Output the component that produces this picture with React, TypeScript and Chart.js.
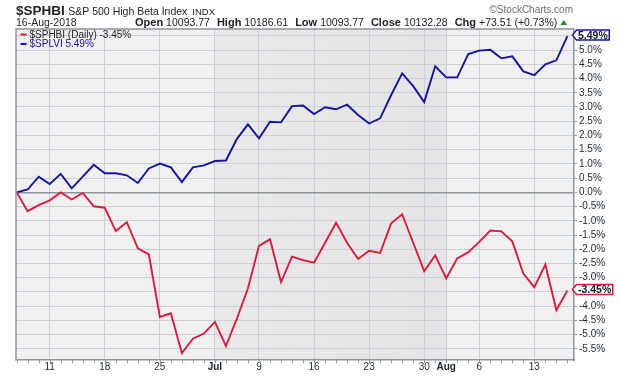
import React, { useEffect, useRef } from "react";
import { Chart, registerables } from "chart.js";

Chart.register(...registerables);

// ---- Data ----
const dates = [
  "2018-06-06", "2018-06-07", "2018-06-08",
  "2018-06-11", "2018-06-12", "2018-06-13", "2018-06-14", "2018-06-15",
  "2018-06-18", "2018-06-19", "2018-06-20", "2018-06-21", "2018-06-22",
  "2018-06-25", "2018-06-26", "2018-06-27", "2018-06-28", "2018-06-29",
  "2018-07-02", "2018-07-03", "2018-07-05", "2018-07-06",
  "2018-07-09", "2018-07-10", "2018-07-11", "2018-07-12", "2018-07-13",
  "2018-07-16", "2018-07-17", "2018-07-18", "2018-07-19", "2018-07-20",
  "2018-07-23", "2018-07-24", "2018-07-25", "2018-07-26", "2018-07-27",
  "2018-07-30", "2018-07-31", "2018-08-01", "2018-08-02", "2018-08-03",
  "2018-08-06", "2018-08-07", "2018-08-08", "2018-08-09", "2018-08-10",
  "2018-08-13", "2018-08-14", "2018-08-15", "2018-08-16",
];

// $SPHBI (Daily) percent change
const sphbi = [
  0, -0.66, -0.45,
  -0.28, 0.0, -0.25, -0.02, -0.49,
  -0.54, -1.36, -1.05, -1.97, -2.18,
  -4.38, -4.25, -5.65, -5.14, -4.96,
  -4.55, -5.4, -4.43, -3.37,
  -1.88, -1.65, -3.15, -2.26, -2.38,
  -2.47, -1.77, -1.07, -1.77, -2.34,
  -2.05, -2.13, -1.09, -0.77, -1.77,
  -2.77, -2.21, -3.02, -2.32, -2.1,
  -1.74, -1.34, -1.37, -1.72, -2.85,
  -3.33, -2.54, -4.14, -3.45,
];

// $SPLVI percent change
const splvi = [
  0, 0.1, 0.55,
  0.29, 0.65, 0.14, 0.55, 0.97,
  0.67, 0.67, 0.6, 0.33, 0.84,
  1.01, 0.88, 0.36, 0.88, 0.95,
  1.1, 1.12, 1.88, 2.39,
  1.9, 2.48, 2.46, 3.03, 3.05,
  2.75, 2.99, 2.92, 3.08, 2.72,
  2.42, 2.6, 3.42, 4.18, 3.73,
  3.17, 4.43, 4.04, 4.04, 4.86,
  4.98, 5.01, 4.71, 4.78, 4.25,
  4.12, 4.5, 4.64, 5.49,
];

const yTickValues = [
  -5.5, -5, -4.5, -4, -3.5, -3, -2.5, -2, -1.5, -1, -0.5, 0,
  0.5, 1, 1.5, 2, 2.5, 3, 3.5, 4, 4.5, 5, 5.5,
];

const monthNames = ["Jan", "Feb", "Mar", "Apr", "May", "Jun", "Jul", "Aug", "Sep", "Oct", "Nov", "Dec"];

const headerSymbol = "$SPHBI";
const headerName = "S&P 500 High Beta Index";
const headerExch = "INDX";
const headerDate = "16-Aug-2018";
const headerStats: [string, string][] = [
  ["Open", "10093.77"],
  ["High", "10186.61"],
  ["Low", "10093.77"],
  ["Close", "10132.28"],
  ["Chg", "+73.51 (+0.73%)"],
];
const watermark = "\u00A9StockCharts.com";

const FONT = "'Liberation Sans', Arial, Helvetica, sans-serif";
const RED = "#dc1a3c";
const BLUE = "#1414a0";
const GRID = "#c9d0da";
const BORDER = "#8e949c";
const TEXT = "#1e2530";

export default function App() {
  const ref = useRef<HTMLCanvasElement>(null);

  useEffect(() => {
    document.body.style.margin = "0";
    const canvas = ref.current!;

    const parsed = dates.map((d) => new Date(d + "T00:00:00Z"));
    const tickIdx: number[] = [];
    const tickLabel: Record<number, { text: string; bold: boolean }> = {};
    const monthStarts: number[] = [];
    for (let i = 1; i < parsed.length; i++) {
      const d = parsed[i];
      const p = parsed[i - 1];
      if (d.getUTCMonth() !== p.getUTCMonth()) {
        tickIdx.push(i);
        monthStarts.push(i);
        tickLabel[i] = { text: monthNames[d.getUTCMonth()], bold: true };
      } else if (d.getUTCDay() < p.getUTCDay()) {
        tickIdx.push(i);
        tickLabel[i] = { text: String(d.getUTCDate()), bold: false };
      }
    }

    const lastRed = sphbi[sphbi.length - 1];
    const lastBlue = splvi[splvi.length - 1];

    const bgPlugin = {
      id: "bg",
      beforeDraw(chart: any) {
        const { ctx, chartArea: a, scales } = chart;
        ctx.save();
        ctx.fillStyle = "#ffffff";
        ctx.fillRect(0, 0, chart.width, chart.height);
        ctx.fillStyle = "#f0f0f0";
        ctx.fillRect(a.left, a.top, a.right - a.left, a.bottom - a.top);
        // alternate month shading
        const bounds = [a.left, ...monthStarts.map((i) => scales.x.getPixelForValue(i)), a.right];
        for (let m = 0; m < bounds.length - 1; m++) {
          if (m % 2 === 1) {
            const x0 = bounds[m];
            const x1 = bounds[m + 1];
            const g = ctx.createLinearGradient(x0, 0, x1, 0);
            g.addColorStop(0, "#e9e9e9");
            g.addColorStop(1, "#e5e5e5");
            ctx.fillStyle = g;
            ctx.fillRect(x0, a.top, x1 - x0, a.bottom - a.top);
          }
        }
        ctx.restore();
      },
    };

    const drawRun = (ctx: CanvasRenderingContext2D, text: string, x: number, y: number, font: string, color: string) => {
      ctx.font = font;
      ctx.fillStyle = color;
      ctx.fillText(text, x, y);
      return ctx.measureText(text).width;
    };

    const overlayPlugin = {
      id: "overlay",
      afterDraw(chart: any) {
        const { ctx, chartArea: a, scales } = chart;
        ctx.save();
        // left and top borders
        ctx.strokeStyle = BORDER;
        ctx.lineWidth = 1.5;
        ctx.beginPath();
        ctx.moveTo(a.left, a.bottom);
        ctx.lineTo(a.left, a.top);
        ctx.lineTo(a.right, a.top);
        ctx.stroke();

        // daily minor ticks
        ctx.lineWidth = 1;
        ctx.beginPath();
        for (let i = 0; i < dates.length; i++) {
          const x = Math.round(scales.x.getPixelForValue(i)) + 0.5;
          ctx.moveTo(x, a.bottom);
          ctx.lineTo(x, a.bottom + 3);
        }
        ctx.stroke();

        // header
        ctx.textBaseline = "alphabetic";
        ctx.textAlign = "left";
        let x = 16;
        x += drawRun(ctx, headerSymbol, x, 15, `bold 13.5px ${FONT}`, "#222");
        x += 3.5;
        x += drawRun(ctx, headerName, x, 15, `10.5px ${FONT}`, "#222");
        x += 5;
        drawRun(ctx, headerExch, x, 15, `9.5px ${FONT}`, "#222");

        ctx.textAlign = "right";
        drawRun(ctx, watermark, 573, 13, `10px ${FONT}`, "#6b6b6b");
        ctx.textAlign = "left";

        drawRun(ctx, headerDate, 16, 26, `10.5px ${FONT}`, "#222");
        x = 135;
        headerStats.forEach(([k, v], idx) => {
          x += drawRun(ctx, k, x, 26, `bold 11px ${FONT}`, "#222");
          x += 3;
          x += drawRun(ctx, v, x, 26, `10.5px ${FONT}`, "#222");
          if (idx < headerStats.length - 1) x += 7;
        });
        // green up triangle
        const tx = x + 3;
        ctx.fillStyle = "#2e8b2e";
        ctx.beginPath();
        ctx.moveTo(tx, 25);
        ctx.lineTo(tx + 7, 25);
        ctx.lineTo(tx + 3.5, 20);
        ctx.closePath();
        ctx.fill();

        // legend
        const legend = [
          { color: RED, text: `$SPHBI (Daily) ${lastRed.toFixed(2)}%`, textColor: "#222" },
          { color: BLUE, text: `$SPLVI ${lastBlue.toFixed(2)}%`, textColor: BLUE },
        ];
        legend.forEach((l, k) => {
          const y = 37.5 + k * 9.5;
          ctx.fillStyle = l.color;
          ctx.fillRect(20.5, y - 4, 6, 2);
          drawRun(ctx, l.text, 29.5, y, `10px ${FONT}`, l.textColor);
        });

        // value boxes on the right axis
        const boxes = [
          { v: lastBlue, color: BLUE },
          { v: lastRed, color: RED },
        ];
        boxes.forEach((b) => {
          const label = `${b.v.toFixed(2)}%`;
          ctx.font = `bold 10.5px ${FONT}`;
          const w = ctx.measureText(label).width;
          let cy = scales.y.getPixelForValue(b.v) - 1;
          const h = 10;
          if (cy - h / 2 < a.top) cy = a.top + h / 2;
          const tip = a.right - 1.5;
          const l = tip + 4;
          const r = l + w + 3;
          ctx.beginPath();
          ctx.moveTo(tip, cy);
          ctx.lineTo(l, cy - h / 2);
          ctx.lineTo(r, cy - h / 2);
          ctx.lineTo(r, cy + h / 2);
          ctx.lineTo(l, cy + h / 2);
          ctx.closePath();
          ctx.fillStyle = "#ffffff";
          ctx.fill();
          ctx.strokeStyle = b.color;
          ctx.lineWidth = 1.5;
          ctx.stroke();
          ctx.fillStyle = "#141428";
          ctx.textBaseline = "middle";
          ctx.fillText(label, l + 1.5, cy + 0.5);
        });
        ctx.restore();
      },
    };

    const chart = new Chart(canvas, {
      type: "line",
      data: {
        datasets: [
          {
            label: "$SPHBI (Daily)",
            data: dates.map((_, i) => ({ x: i, y: sphbi[i] })),
            borderColor: RED,
            borderWidth: 1.9,
            pointRadius: 0,
            tension: 0,
            fill: false,
          },
          {
            label: "$SPLVI",
            data: dates.map((_, i) => ({ x: i, y: splvi[i] })),
            borderColor: BLUE,
            borderWidth: 1.9,
            pointRadius: 0,
            tension: 0,
            fill: false,
          },
        ],
      },
      options: {
        responsive: false,
        animation: false,
        devicePixelRatio: 1,
        layout: { padding: { left: 16, top: 29, right: 0, bottom: 0 } },
        plugins: { legend: { display: false }, tooltip: { enabled: false } },
        scales: {
          x: {
            type: "linear",
            min: -0.06,
            max: 50.6,
            afterBuildTicks: (s: any) => {
              s.ticks = tickIdx.map((v) => ({ value: v }));
            },
            afterFit: (s: any) => {
              s.height = 16;
            },
            grid: { color: GRID, lineWidth: 1, drawTicks: false },
            border: { display: true, color: BORDER, width: 1.5 },
            ticks: {
              autoSkip: false,
              maxRotation: 0,
              padding: 1,
              color: TEXT,
              font: (c: any) => ({
                family: FONT,
                size: 10,
                weight: c.tick && tickLabel[c.tick.value]?.bold ? "bold" : "normal",
              }),
              callback: (v: any) => tickLabel[v]?.text ?? "",
            },
          },
          y: {
            position: "right",
            min: -5.89,
            max: 5.74,
            afterBuildTicks: (s: any) => {
              s.ticks = yTickValues.map((v) => ({ value: v }));
            },
            afterFit: (s: any) => {
              s.width = 46;
            },
            grid: {
              color: (c: any) => (c.tick && c.tick.value === 0 ? BORDER : GRID),
              lineWidth: (c: any) => (c.tick && c.tick.value === 0 ? 1.5 : 1),
              tickLength: 3,
              tickColor: BORDER,
              tickWidth: 1,
            },
            border: { display: true, color: BORDER, width: 1.5 },
            ticks: {
              padding: 2,
              color: TEXT,
              font: { family: FONT, size: 10 },
              callback: (v: any) => {
                const n = Number(v);
                if (Math.abs(n - lastRed) < 0.25 || Math.abs(n - lastBlue) < 0.25) return "";
                return n.toFixed(1) + "%";
              },
            },
          },
        },
      },
      plugins: [bgPlugin, overlayPlugin],
    } as any);

    return () => chart.destroy();
  }, []);

  return <canvas ref={ref} width={620} height={376} style={{ display: "block" }} />;
}
